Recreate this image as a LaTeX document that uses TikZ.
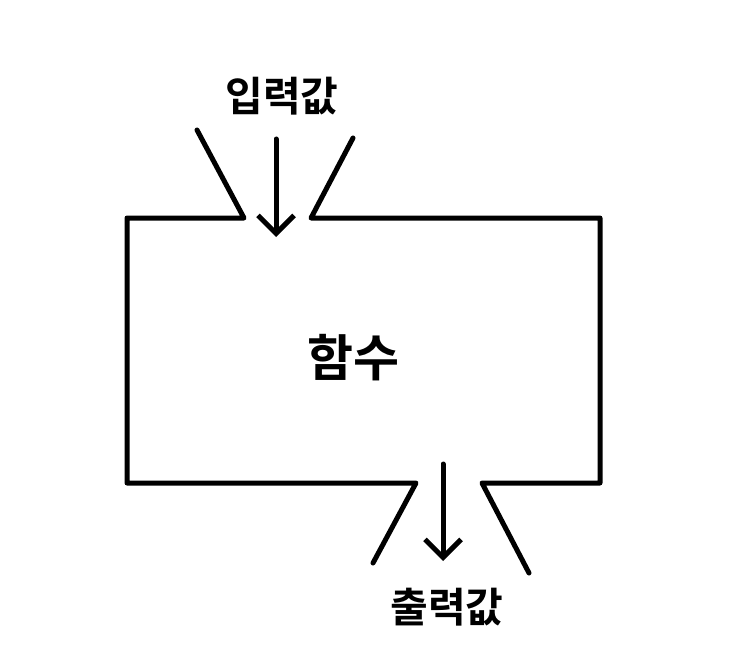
\documentclass[tikz,border=0pt]{standalone}
\usepackage{fontspec}
\newfontfamily\krfont{Noto Sans CJK KR}[BoldFont={* Bold}]
\usetikzlibrary{arrows.meta}

\begin{document}
\begin{tikzpicture}[x=1pt,y=-1pt,line width=5pt,line cap=round,line join=round,
    label/.style={font=\krfont\bfseries\fontsize{41}{43}\selectfont,inner sep=0pt},
    title/.style={font=\krfont\bfseries\fontsize{50}{52}\selectfont,inner sep=0pt},
    flow/.style={-{Straight Barb[length=18pt,width=36pt]}}]
  \useasboundingbox (0,0) rectangle (743,655);
  % the box with its two mouths
  \coordinate (inL) at (197,130);
  \coordinate (inR) at (353,138);
  \coordinate (outL) at (373,563);
  \coordinate (outR) at (529,573);
  \draw (inL) -- (244,218) -- (127,218) -- (127,483) -- (416,483) -- (outL);
  \draw (inR) -- (311,218) -- (600,218) -- (600,483) -- (482,483) -- (outR);
  % texts
  \node[label] (in) at (282,96) {입력값};
  \node[title] (f) at (353,358) {함수};
  \node[label] (out) at (447,607) {출력값};
  % arrows
  \coordinate (inA) at (276,139);
  \coordinate (inB) at (276,237);
  \coordinate (outA) at (443,464);
  \coordinate (outB) at (443,561);
  \draw[flow] (inA) -- (inB);
  \draw[flow] (outA) -- (outB);
\end{tikzpicture}
\end{document}
